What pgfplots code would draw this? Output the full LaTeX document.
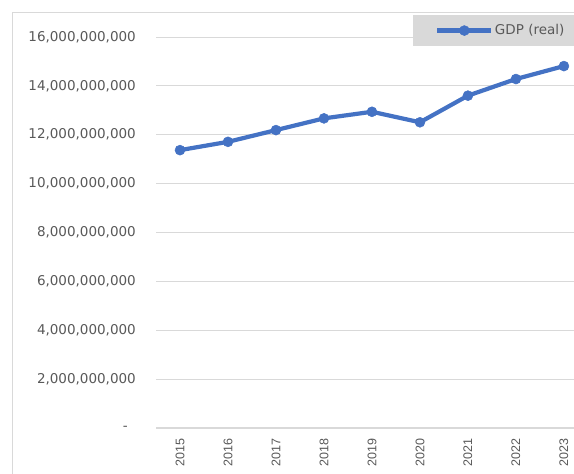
\documentclass[border=0pt]{standalone}
\usepackage{pgfplots}
\pgfplotsset{compat=1.18}
\usepackage{fontspec}
\setmainfont{DejaVu Sans}
\newfontfamily\yearfont{Liberation Sans}
\definecolor{xlblue}{HTML}{4472C4}
\definecolor{gridgray}{HTML}{D9D9D9}
\definecolor{txtgray}{HTML}{595959}
\definecolor{legfill}{HTML}{D9D9D9}
\begin{document}
\begin{tikzpicture}
\useasboundingbox (0,0) rectangle (574bp,474bp);
\fill[white] (0,0) rectangle (574bp,474bp);
\draw[gridgray, line width=1bp] (12bp,0) -- (12bp,461bp) -- (574bp,461bp);
\begin{axis}[
  at={(156bp,46bp)}, anchor=south west,
  scale only axis, width=418bp, height=391bp,
  xmin=-0.5, xmax=8.21, ymin=0, ymax=16e9,
  clip=false,
  axis line style={draw=none},
  major tick length=0pt,
  xtick={0,1,2,3,4,5,6,7,8},
  xticklabels={2015,2016,2017,2018,2019,2020,2021,2022,2023},
  ytick={0,2e9,4e9,6e9,8e9,10e9,12e9,14e9,16e9},
  yticklabels={{-\hspace*{8bp}},{2,000,000,000},{4,000,000,000},{6,000,000,000},{8,000,000,000},{10,000,000,000},{12,000,000,000},{14,000,000,000},{16,000,000,000}},
  scaled y ticks=false,
  ymajorgrids,
  grid style={gridgray, line width=0.9bp},
  extra y ticks={0}, extra y tick labels={},
  extra y tick style={grid style={gridgray, line width=1.2bp}},
  yticklabel style={font=\fontsize{13.5bp}{15bp}\selectfont, text=txtgray, inner sep=0pt, anchor=east},
  yticklabel shift=20bp,
  xticklabel style={font=\yearfont\fontsize{12.5bp}{13bp}\selectfont, text=txtgray, inner sep=0pt, rotate=90, anchor=east},
  xticklabel shift=10bp,
  legend style={at={(axis description cs:0.615,1.0563)}, anchor=north west,
    fill=legfill, draw=none, text=txtgray,
    font=\fontsize{13.5bp}{15bp}\selectfont,
    inner xsep=22bp, inner ysep=8bp, nodes={inner sep=1.5bp}},
  legend image code/.code={\draw[mark repeat=2,mark phase=2,#1] plot coordinates {(0bp,0bp) (27bp,0bp) (54bp,0bp)};},
]
\addplot[xlblue, line width=4.2bp, mark=*, mark size=5bp, mark options={fill=xlblue, draw=xlblue, line width=0.5bp}]
  coordinates {(0,11.37e9) (1,11.71e9) (2,12.19e9) (3,12.67e9) (4,12.94e9) (5,12.51e9) (6,13.60e9) (7,14.28e9) (8,14.81e9)};
\addlegendentry{GDP (real)}
\end{axis}
\end{tikzpicture}
\end{document}
